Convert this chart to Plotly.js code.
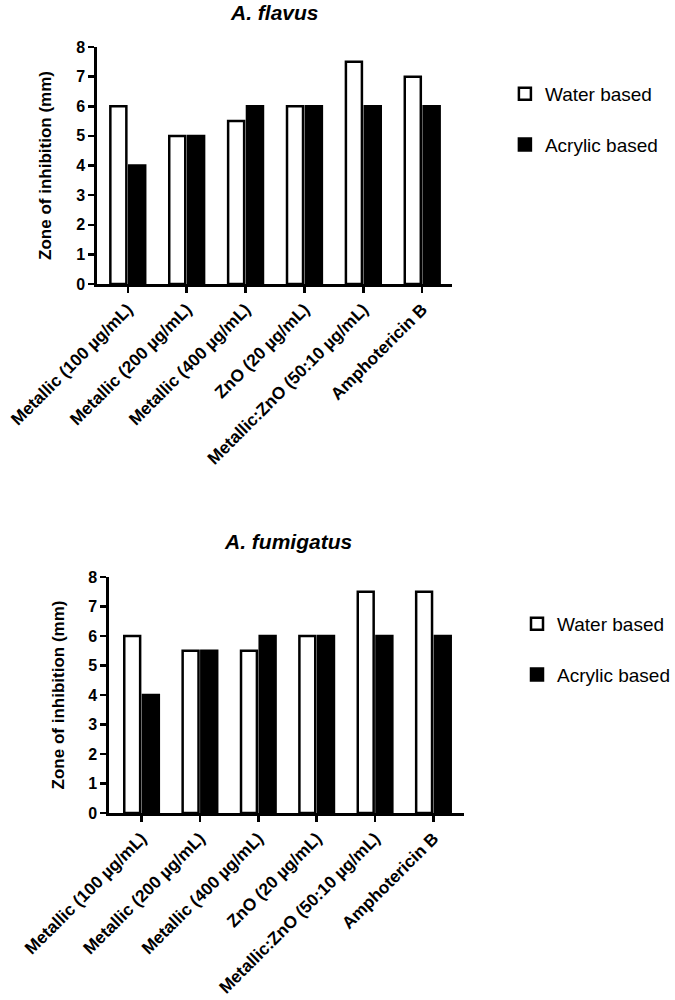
<!DOCTYPE html>
<html>
<head>
<meta charset="utf-8">
<script src="https://cdn.plot.ly/plotly-3.0.1.min.js"></script>
<style>html,body{margin:0;padding:0;background:#fff;}#chart{width:675px;height:1000px;}</style>
</head>
<body>
<div id="chart"></div>
<script>
const categories = ["Metallic (100 µg/mL)", "Metallic (200 µg/mL)", "Metallic (400 µg/mL)", "ZnO (20 µg/mL)", "Metallic:ZnO (50:10 µg/mL)", "Amphotericin B"];
const seriesNames = ["Water based", "Acrylic based"];
const flavusWater = [6, 5, 5.5, 6, 7.5, 7];
const flavusAcrylic = [4, 5, 6, 6, 6, 6];
const fumigatusWater = [6, 5.5, 5.5, 6, 7.5, 7.5];
const fumigatusAcrylic = [4, 5.5, 6, 6, 6, 6];
const panelTitles = ["A. flavus", "A. fumigatus"];
const yTitle = "Zone of inhibition (mm)";
const yTicks = [0, 1, 2, 3, 4, 5, 6, 7, 8];

const FONT = "Liberation Sans, Arial, Helvetica, sans-serif";
function barTrace(name, y, fill, xa, ya, leg, grp) {
  return {
    type: "bar", name: name, x: categories, y: y,
    xaxis: xa, yaxis: ya, legend: leg, legendgroup: grp,
    marker: {color: fill, line: {color: "#000", width: 2.5}},
    hoverinfo: "y"
  };
}
const data = [
  barTrace(seriesNames[0], flavusWater, "#fff", "x", "y", "legend", "a1"),
  barTrace(seriesNames[1], flavusAcrylic, "#000", "x", "y", "legend", "a2"),
  barTrace(seriesNames[0], fumigatusWater, "#fff", "x2", "y2", "legend2", "b1"),
  barTrace(seriesNames[1], fumigatusAcrylic, "#000", "x2", "y2", "legend2", "b2")
];

function xAxis(domain, anchor, range) {
  return {
    domain: domain, anchor: anchor, range: range, type: "category",
    showline: true, linecolor: "#000", linewidth: 2.5, mirror: false,
    ticks: "outside", ticklen: 6, tickwidth: 2.5, tickcolor: "#000",
    tickangle: -45, showgrid: false, zeroline: false, automargin: false,
    tickfont: {family: FONT, size: 17.2, color: "#000", weight: "bold"}
  };
}
function yAxis(domain, anchor, standoff) {
  return {
    domain: domain, anchor: anchor, range: [0, 8], tickvals: yTicks,
    showline: true, linecolor: "#000", linewidth: 2.5,
    ticks: "outside", ticklen: 6, tickwidth: 2.5, tickcolor: "#000",
    showgrid: false, zeroline: false, automargin: false,
    tickfont: {family: FONT, size: 16, color: "#000", weight: "bold"},
    title: {text: yTitle, standoff: standoff, font: {family: FONT, size: 17, color: "#000", weight: "bold"}}
  };
}
function legendCfg(x, y) {
  return {
    x: x, y: y, xanchor: "left", yanchor: "top", traceorder: "grouped",
    tracegroupgap: 23, bgcolor: "rgba(0,0,0,0)",
    font: {family: FONT, size: 19, color: "#000"}
  };
}

const layout = {
  width: 675, height: 1000,
  margin: {l: 0, r: 0, t: 0, b: 0},
  paper_bgcolor: "#fff", plot_bgcolor: "#fff",
  barmode: "group", bargap: 0.36, bargroupgap: 0.15,
  showlegend: true,
  xaxis: xAxis([0.1437, 0.671], "y", [-0.525, 5.51]),
  yaxis: yAxis([0.716, 0.953], "x", 21),
  xaxis2: xAxis([0.1615, 0.689], "y2", [-0.56, 5.53]),
  yaxis2: yAxis([0.187, 0.423], "x2", 20),
  legend: legendCfg(0.748, 0.925),
  legend2: legendCfg(0.767, 0.395),
  annotations: [
    {text: panelTitles[0], xref: "paper", yref: "paper", x: 275/675, y: 1 - 12/1000, xanchor: "center", yanchor: "middle", showarrow: false,
     font: {family: FONT, size: 21, color: "#000", weight: "bold", style: "italic"}},
    {text: panelTitles[1], xref: "paper", yref: "paper", x: 288/675, y: 1 - 541/1000, xanchor: "center", yanchor: "middle", showarrow: false,
     font: {family: FONT, size: 21, color: "#000", weight: "bold", style: "italic"}}
  ]
};
Plotly.newPlot("chart", data, layout, {displayModeBar: false, staticPlot: true});
</script>
</body>
</html>
